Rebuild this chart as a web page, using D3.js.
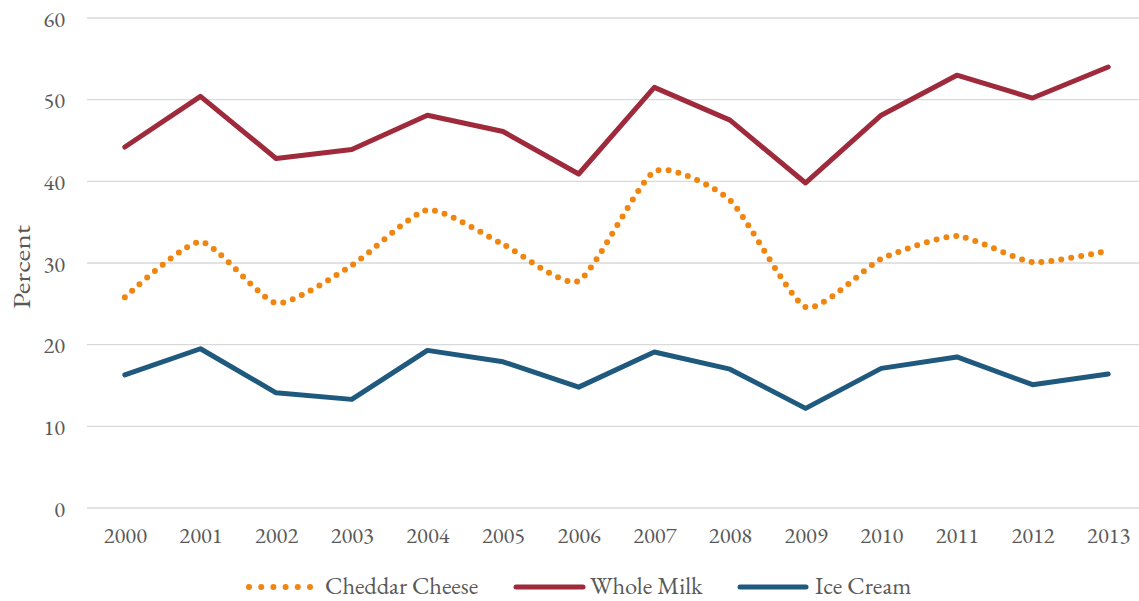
<!DOCTYPE html>
<html><head><meta charset="utf-8">
<script src="https://cdn.jsdelivr.net/npm/d3@7"></script>
<style>body{margin:0;background:#fff;}</style>
</head>
<body><svg id="c" width="1139" height="601"></svg>
<script>
const years = ["2000","2001","2002","2003","2004","2005","2006","2007","2008","2009","2010","2011","2012","2013"];
const cheddar = [25.8,32.6,25.1,29.7,36.5,32.3,27.8,41.2,37.7,24.6,30.5,33.3,30.1,31.5];
const milk = [44.2,50.4,42.8,43.9,48.1,46.1,40.9,51.5,47.5,39.8,48.1,53.0,50.2,54.0];
const iceCream = [16.3,19.5,14.1,13.3,19.3,17.9,14.8,19.1,17.0,12.2,17.1,18.5,15.1,16.4];
const yTicks = [0,10,20,30,40,50,60];

const FONT = '"EB Garamond","Liberation Serif",serif';
const TXT = "#595959";
const svg = d3.select("#c");
const pLeft = 87, pRight = 1146, pTop = 18, pBottom = 508;
const x = d3.scalePoint().domain(years).range([pLeft, pRight]).padding(0.5);
const y = d3.scaleLinear().domain([0,60]).range([pBottom, pTop]);

// gridlines
svg.append("g").selectAll("line").data(yTicks).join("line")
  .attr("x1", pLeft).attr("x2", 1139).attr("y1", d=>y(d)).attr("y2", d=>y(d))
  .attr("stroke", "#d9d9d9").attr("stroke-width", 1.3);

// y axis labels
const yAxis = d3.axisLeft(y).tickValues(yTicks).tickSize(0).tickPadding(0);
const gy = svg.append("g").attr("transform", `translate(65,0)`).call(yAxis);
gy.select(".domain").remove();
gy.selectAll("text").style("font-family", FONT).style("font-size","22.5px").attr("fill", TXT).attr("dy", "0.36em");

// x axis labels
const xAxis = d3.axisBottom(x).tickSize(0).tickPadding(0);
const gx = svg.append("g").attr("transform", `translate(0,543)`).call(xAxis);
gx.select(".domain").remove();
gx.selectAll("text").style("font-family", FONT).style("font-size","22.5px").attr("fill", TXT).attr("dy", "0");

// y title
svg.append("text").attr("transform", "translate(30,267) rotate(-90)")
  .attr("text-anchor", "middle").style("font-family", FONT).style("font-size","25px")
  .attr("textLength", 84).attr("lengthAdjust", "spacingAndGlyphs")
  .attr("fill", TXT).text("Percent");

const line = d3.line().x((d,i)=>x(years[i])).y(d=>y(d));
const smooth = d3.line().x((d,i)=>x(years[i])).y(d=>y(d)).curve(d3.curveCardinal.tension(0.4));

svg.append("path").attr("d", smooth(cheddar)).attr("fill","none")
  .attr("stroke","#f0850f").attr("stroke-width",6).attr("stroke-linecap","round")
  .attr("stroke-dasharray","0 10");
svg.append("path").attr("d", line(milk)).attr("fill","none")
  .attr("stroke","#9e2a3b").attr("stroke-width",5).attr("stroke-linejoin","round").attr("stroke-linecap","round");
svg.append("path").attr("d", line(iceCream)).attr("fill","none")
  .attr("stroke","#1f5a7e").attr("stroke-width",5).attr("stroke-linejoin","round").attr("stroke-linecap","round");

// legend
const ly = 587;
const lg = svg.append("g");
lg.append("line").attr("x1",249).attr("x2",310).attr("y1",ly).attr("y2",ly)
  .attr("stroke","#f0850f").attr("stroke-width",6).attr("stroke-linecap","round").attr("stroke-dasharray","0 12.2");
const legendText = (xx, t) => lg.append("text").attr("x",xx).attr("y",594)
  .style("font-family", FONT).style("font-size","24.5px").attr("fill", TXT).text(t);
legendText(325, "Cheddar Cheese");
lg.append("line").attr("x1",516).attr("x2",583).attr("y1",ly).attr("y2",ly)
  .attr("stroke","#9e2a3b").attr("stroke-width",5).attr("stroke-linecap","round");
legendText(590, "Whole Milk");
lg.append("line").attr("x1",740).attr("x2",806).attr("y1",ly).attr("y2",ly)
  .attr("stroke","#1f5a7e").attr("stroke-width",5).attr("stroke-linecap","round");
legendText(815, "Ice Cream");
</script></body></html>
